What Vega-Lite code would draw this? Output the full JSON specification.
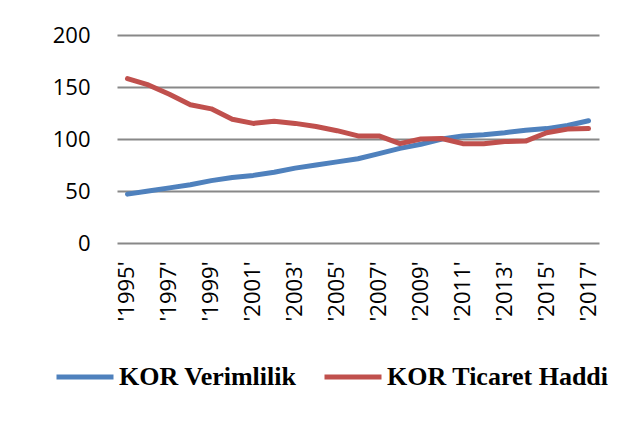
{
  "$schema": "https://vega.github.io/schema/vega-lite/v6.json",
  "width": 482,
  "height": 208,
  "autosize": {"type": "none"},
  "padding": {"left": 117, "top": 35, "right": 38, "bottom": 194},
  "background": "white",
  "config": {
    "view": {"stroke": null},
    "font": "Open Sans"
  },
  "data": {
    "values": [
      {"year": "'1995'", "series": "KOR Verimlilik", "value": 47},
      {"year": "'1996'", "series": "KOR Verimlilik", "value": 50},
      {"year": "'1997'", "series": "KOR Verimlilik", "value": 53},
      {"year": "'1998'", "series": "KOR Verimlilik", "value": 56},
      {"year": "'1999'", "series": "KOR Verimlilik", "value": 60},
      {"year": "'2000'", "series": "KOR Verimlilik", "value": 63},
      {"year": "'2001'", "series": "KOR Verimlilik", "value": 65},
      {"year": "'2002'", "series": "KOR Verimlilik", "value": 68},
      {"year": "'2003'", "series": "KOR Verimlilik", "value": 72},
      {"year": "'2004'", "series": "KOR Verimlilik", "value": 75},
      {"year": "'2005'", "series": "KOR Verimlilik", "value": 78},
      {"year": "'2006'", "series": "KOR Verimlilik", "value": 81},
      {"year": "'2007'", "series": "KOR Verimlilik", "value": 86},
      {"year": "'2008'", "series": "KOR Verimlilik", "value": 91},
      {"year": "'2009'", "series": "KOR Verimlilik", "value": 95},
      {"year": "'2010'", "series": "KOR Verimlilik", "value": 100},
      {"year": "'2011'", "series": "KOR Verimlilik", "value": 103},
      {"year": "'2012'", "series": "KOR Verimlilik", "value": 104},
      {"year": "'2013'", "series": "KOR Verimlilik", "value": 106},
      {"year": "'2014'", "series": "KOR Verimlilik", "value": 108.5},
      {"year": "'2015'", "series": "KOR Verimlilik", "value": 110},
      {"year": "'2016'", "series": "KOR Verimlilik", "value": 113},
      {"year": "'2017'", "series": "KOR Verimlilik", "value": 117.5},
      {"year": "'1995'", "series": "KOR Ticaret Haddi", "value": 158},
      {"year": "'1996'", "series": "KOR Ticaret Haddi", "value": 152},
      {"year": "'1997'", "series": "KOR Ticaret Haddi", "value": 143},
      {"year": "'1998'", "series": "KOR Ticaret Haddi", "value": 133},
      {"year": "'1999'", "series": "KOR Ticaret Haddi", "value": 129},
      {"year": "'2000'", "series": "KOR Ticaret Haddi", "value": 119},
      {"year": "'2001'", "series": "KOR Ticaret Haddi", "value": 115},
      {"year": "'2002'", "series": "KOR Ticaret Haddi", "value": 117},
      {"year": "'2003'", "series": "KOR Ticaret Haddi", "value": 115},
      {"year": "'2004'", "series": "KOR Ticaret Haddi", "value": 112},
      {"year": "'2005'", "series": "KOR Ticaret Haddi", "value": 108},
      {"year": "'2006'", "series": "KOR Ticaret Haddi", "value": 103},
      {"year": "'2007'", "series": "KOR Ticaret Haddi", "value": 103},
      {"year": "'2008'", "series": "KOR Ticaret Haddi", "value": 95.5},
      {"year": "'2009'", "series": "KOR Ticaret Haddi", "value": 100},
      {"year": "'2010'", "series": "KOR Ticaret Haddi", "value": 100.5},
      {"year": "'2011'", "series": "KOR Ticaret Haddi", "value": 95.5},
      {"year": "'2012'", "series": "KOR Ticaret Haddi", "value": 95.5},
      {"year": "'2013'", "series": "KOR Ticaret Haddi", "value": 97.5},
      {"year": "'2014'", "series": "KOR Ticaret Haddi", "value": 98},
      {"year": "'2015'", "series": "KOR Ticaret Haddi", "value": 106},
      {"year": "'2016'", "series": "KOR Ticaret Haddi", "value": 109.5},
      {"year": "'2017'", "series": "KOR Ticaret Haddi", "value": 110}
    ]
  },
  "mark": {"type": "line", "strokeWidth": 5, "strokeCap": "round", "strokeJoin": "round"},
  "encoding": {
    "x": {
      "field": "year",
      "type": "ordinal",
      "scale": {"type": "band", "paddingInner": 0, "paddingOuter": 0},
      "axis": {
        "title": null,
        "values": ["'1995'", "'1997'", "'1999'", "'2001'", "'2003'", "'2005'", "'2007'", "'2009'", "'2011'", "'2013'", "'2015'", "'2017'"],
        "labelAngle": -90,
        "labelAlign": "right",
        "labelBaseline": "middle",
        "labelFont": "Open Sans",
        "labelFontSize": 22,
        "labelColor": "#000000",
        "labelPadding": 18,
        "ticks": false,
        "domain": false,
        "grid": false
      }
    },
    "y": {
      "field": "value",
      "type": "quantitative",
      "scale": {"domain": [0, 200], "nice": false},
      "axis": {
        "title": null,
        "values": [0, 50, 100, 150, 200],
        "labelFont": "Open Sans",
        "labelFontSize": 22,
        "labelColor": "#000000",
        "labelPadding": 27,
        "ticks": false,
        "domain": false,
        "grid": true,
        "gridColor": "#888888",
        "gridWidth": 2
      }
    },
    "color": {
      "field": "series",
      "type": "nominal",
      "sort": ["KOR Verimlilik", "KOR Ticaret Haddi"],
      "scale": {"domain": ["KOR Verimlilik", "KOR Ticaret Haddi"], "range": ["#4F81BD", "#C0504D"]},
      "legend": {
        "title": null,
        "orient": "none",
        "direction": "horizontal",
        "legendX": -63,
        "legendY": 311,
        "symbolType": "stroke",
        "symbolSize": 3249,
        "symbolStrokeWidth": 5,
        "labelFont": "Liberation Serif",
        "labelFontWeight": "bold",
        "labelFontSize": 26,
        "labelColor": "#000000",
        "labelLimit": 400,
        "labelOffset": 3,
        "columnPadding": 17
      }
    }
  }
}
